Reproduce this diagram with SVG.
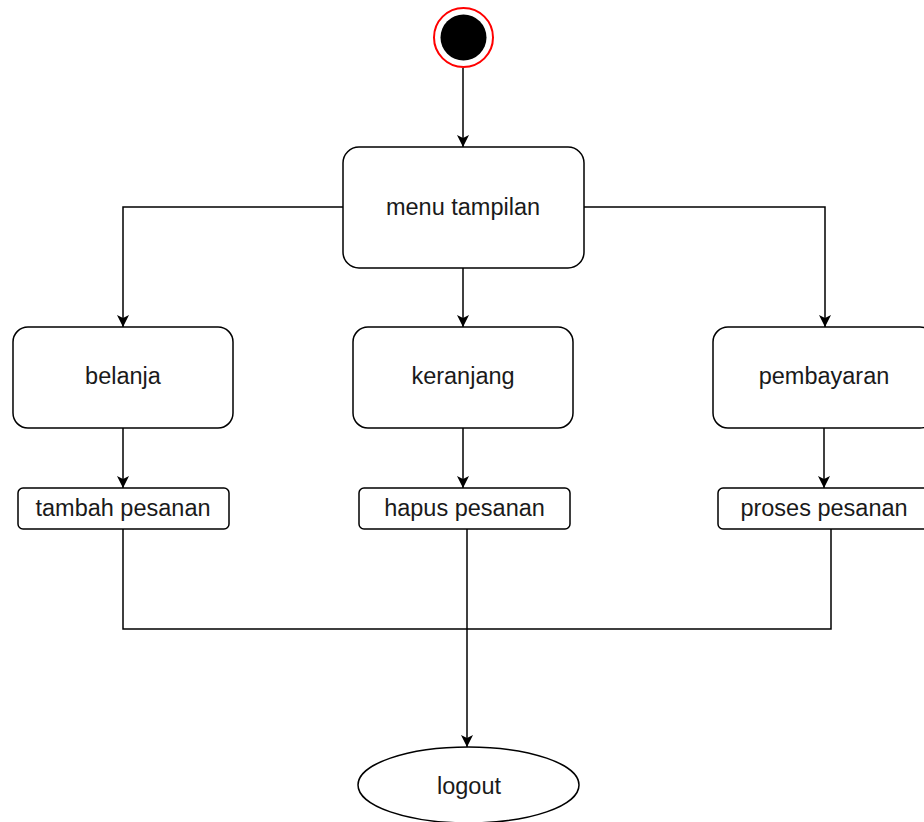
<svg xmlns="http://www.w3.org/2000/svg" width="924" height="822" viewBox="0 0 924 822">
<style>
.box{fill:#fff;stroke:#000;stroke-width:1.5}
.lbl{font-family:"Liberation Sans",Arial,sans-serif;font-size:23.5px;fill:#1a1a1a;text-anchor:middle}
.edge{fill:none;stroke:#000;stroke-width:1.5}
.arr{marker-end:url(#ah)}
</style>
<defs>
<marker id="ah" markerUnits="userSpaceOnUse" viewBox="0 0 12 12" refX="12" refY="6" markerWidth="12" markerHeight="12" orient="auto">
<path d="M0,0 L12,6 L0,12 L3,6 z" fill="#000"/>
</marker>
</defs>
<rect x="0" y="0" width="924" height="822" fill="#fff"/>
<g id="connectors">
<path class="edge arr" d="M463,68 V147"/>
<path class="edge arr" d="M343,207 H123 V327"/>
<path class="edge arr" d="M463,268 V327"/>
<path class="edge arr" d="M584,207 H825 V327"/>
<path class="edge arr" d="M123,428 V488"/>
<path class="edge arr" d="M463,428 V488"/>
<path class="edge arr" d="M824,428 V488"/>
<path class="edge" d="M123,529 V629 H467"/>
<path class="edge" d="M831,529 V629 H467"/>
<path class="edge arr" d="M467,529 V747"/>
</g>
<g id="start">
<circle cx="463.5" cy="37.5" r="29.5" fill="#fff" stroke="#ff0000" stroke-width="2"/>
<circle cx="463.5" cy="37.5" r="23" fill="#000"/>
</g>
<g id="menu">
<rect class="box" x="343" y="147" width="241" height="121" rx="16"/>
<text class="lbl" x="463" y="215">menu tampilan</text>
</g>
<g id="belanja">
<rect class="box" x="13" y="327" width="220" height="101" rx="15"/>
<text class="lbl" x="123" y="384">belanja</text>
</g>
<g id="keranjang">
<rect class="box" x="353" y="327" width="220" height="101" rx="15"/>
<text class="lbl" x="463" y="384">keranjang</text>
</g>
<g id="pembayaran">
<rect class="box" x="713" y="327" width="222" height="101" rx="15"/>
<text class="lbl" x="824" y="384">pembayaran</text>
</g>
<g id="tambah">
<rect class="box" x="18" y="488" width="211" height="41" rx="5"/>
<text class="lbl" x="123" y="516">tambah pesanan</text>
</g>
<g id="hapus">
<rect class="box" x="359" y="488" width="211" height="41" rx="5"/>
<text class="lbl" x="464.5" y="516">hapus pesanan</text>
</g>
<g id="proses">
<rect class="box" x="718" y="488" width="226" height="41" rx="5"/>
<text class="lbl" x="824" y="516">proses pesanan</text>
</g>
<g id="logout">
<ellipse class="box" cx="468.5" cy="785" rx="110.5" ry="38"/>
<text class="lbl" x="469" y="794">logout</text>
</g>
</svg>
